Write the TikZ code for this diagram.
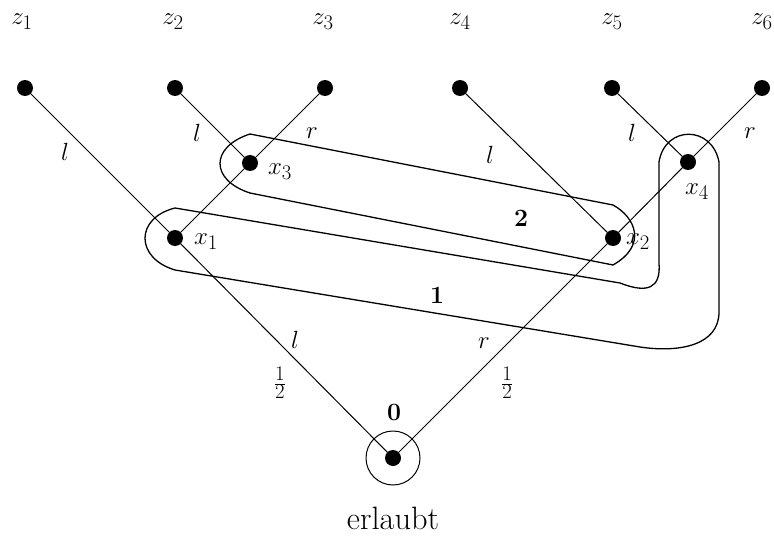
\documentclass[tikz,border=0pt]{standalone}
\usepackage{graphicx}
\begin{document}
\begin{tikzpicture}[x=1pt,y=-1pt,
  every node/.style={font=\fontsize{24.88}{30}\selectfont},
  dot/.style={circle,fill=black,inner sep=0pt,minimum size=16pt},
  edge/.style={line width=1pt},
  infoset/.style={line width=1.3pt},
  lab/.style={inner sep=1pt}]
\useasboundingbox (0,0) rectangle (774,551);
% decision nodes
\node[dot] (o) at (393,458) {};
\node[draw,circle,line width=1pt,minimum size=54pt,inner sep=0pt] (ring) at (393,458) {};
\node[dot] (x1) at (175,238) {};
\node[dot] (x2) at (613,238) {};
\node[dot] (x3) at (250,163) {};
\node[dot] (x4) at (688,162) {};
\node[dot] (z1) at (25,88) {};
\node[dot] (z2) at (175,88) {};
\node[dot] (z3) at (325,88) {};
\node[dot] (z4) at (460,88) {};
\node[dot] (z5) at (612,88) {};
\node[dot] (z6) at (762,88) {};
% edges
\draw[edge] (o) -- (x1);
\draw[edge] (o) -- (x2);
\draw[edge] (x1) -- (z1);
\draw[edge] (x1) -- (x3);
\draw[edge] (x3) -- (z2);
\draw[edge] (x3) -- (z3);
\draw[edge] (x2) -- (z4);
\draw[edge] (x2) -- (x4);
\draw[edge] (x4) -- (z5);
\draw[edge] (x4) -- (z6);
% information sets
\draw[infoset] (250,134) -- (613,205)
  .. controls (635,217) and (648,245) .. (613,265)
  -- (250,193)
  .. controls (210,180) and (210,147) .. cycle;
\draw[infoset] (175,208) -- (620,283)
  .. controls (648,294) and (661,288) .. (659,263)
  -- (659,162)
  .. controls (665,125) and (712,125) .. (719,162)
  -- (719,312)
  .. controls (719,345) and (680,353) .. (640,347)
  -- (175,270)
  .. controls (135,258) and (135,218) .. cycle;
% terminal labels
\node (lz1) at (22,22) {$z_1$};
\node (lz2) at (173,22) {$z_2$};
\node (lz3) at (323,22) {$z_3$};
\node (lz4) at (460,22) {$z_4$};
\node (lz5) at (612,22) {$z_5$};
\node (lz6) at (762,22) {$z_6$};
% node labels
\node (lx1) at (206,242) {$x_1$};
\node (lx2) at (638,242) {$x_2$};
\node (lx3) at (280,172) {$x_3$};
\node (lx4) at (697,192) {$x_4$};
% action labels
\node (a1) at (65,152) {$l$};
\node (a2) at (197,133) {$l$};
\node (a3) at (312,133) {$r$};
\node (a4) at (490,155) {$l$};
\node (a5) at (632,133) {$l$};
\node (a6) at (750,133) {$r$};
\node (a7) at (295,340) {$l$};
\node (a8) at (484,343) {$r$};
\node (p1) at (280,383) {$\frac{1}{2}$};
\node (p2) at (507,383) {$\frac{1}{2}$};
% player labels
\node (pl0) at (394,412) {$\mathbf{0}$};
\node (pl1) at (437,295) {$\mathbf{1}$};
\node (pl2) at (521,218) {$\mathbf{2}$};
% caption
\node (cap) at (393,518) {\scalebox{1.3}{erlaubt}};
\end{tikzpicture}
\end{document}
